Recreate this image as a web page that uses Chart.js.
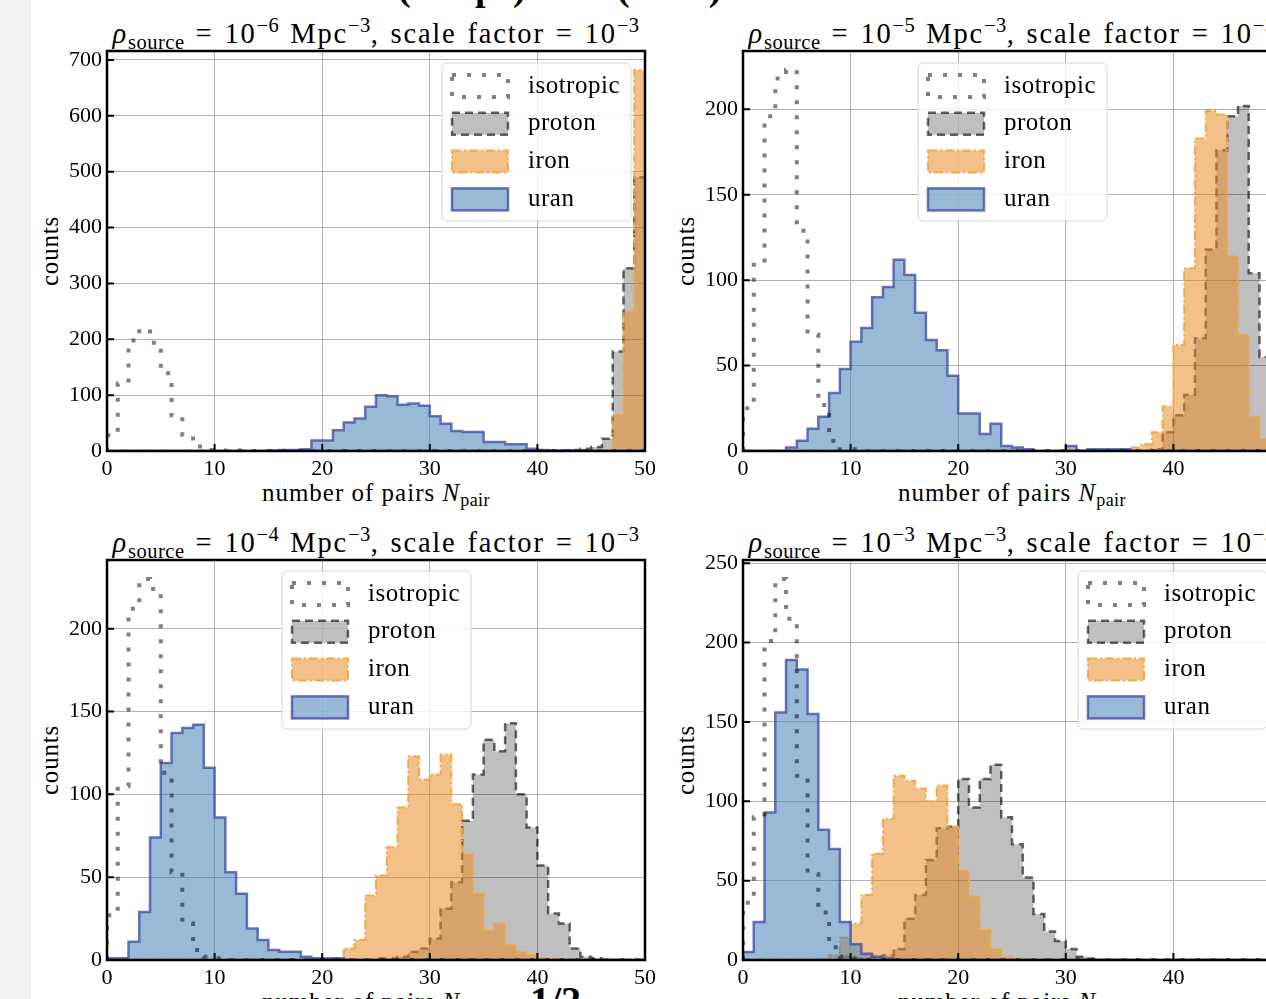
<!DOCTYPE html>
<html>
<head>
<meta charset="utf-8">
<script src="https://cdn.jsdelivr.net/npm/chart.js@4.4.1/dist/chart.umd.min.js"></script>
<style>
  body { margin: 0; width: 1266px; height: 999px; overflow: hidden; background: #fff; position: relative;
         font-family: "Liberation Serif", "DejaVu Serif", serif; color: #000; }
  #strip { position: absolute; left: 0; top: 0; width: 31px; height: 999px; background: #f1f1f1; }
  canvas { position: absolute; }
  .title { position: absolute; font-size: 28.5px; line-height: 30px; white-space: nowrap; text-align: center;
           letter-spacing: 1.8px; word-spacing: 2px; }
  .eq { margin: 0 11px; }
  .xlab { position: absolute; font-size: 25px; line-height: 26px; white-space: nowrap; text-align: center; width: 538px;
          letter-spacing: 1px; }
  .ylab { position: absolute; font-size: 25px; line-height: 26px; white-space: nowrap; letter-spacing: 0.8px;
          transform: translate(-50%, -50%) rotate(-90deg); }
  .bold { position: absolute; font-weight: bold; white-space: nowrap; line-height: 1; }
  sub { font-size: 0.72em; position: relative; top: 0.3em; vertical-align: baseline; line-height: 0; letter-spacing: 0.5px; }
  sup { font-size: 0.72em; position: relative; top: -0.55em; vertical-align: baseline; line-height: 0; letter-spacing: 0.5px; }
</style>
</head>
<body>
<div id="strip"></div>

<div class="bold" style="left:398px;top:-32px;font-size:38px">(1 Mpc)</div>
<div class="bold" style="left:617px;top:-32px;font-size:38px">(1 nG)</div>
<div class="bold" style="left:530px;top:981px;font-size:40px">1/2</div>

<div class="title" style="left:107px;top:19px;width:538px"><i>ρ</i><sub>source</sub><span class="eq">=</span>10<sup>−6</sup> Mpc<sup>−3</sup>, scale factor<span class="eq">=</span>10<sup>−3</sup></div>
<div class="title" style="left:743px;top:19px;width:538px"><i>ρ</i><sub>source</sub><span class="eq">=</span>10<sup>−5</sup> Mpc<sup>−3</sup>, scale factor<span class="eq">=</span>10<sup>−3</sup></div>
<div class="title" style="left:107px;top:528px;width:538px"><i>ρ</i><sub>source</sub><span class="eq">=</span>10<sup>−4</sup> Mpc<sup>−3</sup>, scale factor<span class="eq">=</span>10<sup>−3</sup></div>
<div class="title" style="left:743px;top:528px;width:538px"><i>ρ</i><sub>source</sub><span class="eq">=</span>10<sup>−3</sup> Mpc<sup>−3</sup>, scale factor<span class="eq">=</span>10<sup>−3</sup></div>

<div class="ylab" style="left:50px;top:251px">counts</div>
<div class="ylab" style="left:686px;top:251px">counts</div>
<div class="ylab" style="left:50px;top:760px">counts</div>
<div class="ylab" style="left:686px;top:760px">counts</div>

<div class="xlab" style="left:107px;top:480px">number of pairs <i>N</i><sub>pair</sub></div>
<div class="xlab" style="left:743px;top:480px">number of pairs <i>N</i><sub>pair</sub></div>
<div class="xlab" style="left:107px;top:989px">number of pairs <i>N</i><sub>pair</sub></div>
<div class="xlab" style="left:743px;top:989px">number of pairs <i>N</i><sub>pair</sub></div>

<canvas id="c1" width="623" height="455" style="left:47px;top:31px"></canvas>
<canvas id="c2" width="623" height="455" style="left:683px;top:31px"></canvas>
<canvas id="c3" width="623" height="455" style="left:47px;top:540px"></canvas>
<canvas id="c4" width="623" height="455" style="left:683px;top:540px"></canvas>

<script>
const FONT = "'Liberation Serif', 'DejaVu Serif', serif";

// left edges of the 50 unit bins (number of pairs)
const binLeft = [0, 1, 2, 3, 4, 5, 6, 7, 8, 9, 10, 11, 12, 13, 14, 15, 16, 17, 18, 19,
                 20, 21, 22, 23, 24, 25, 26, 27, 28, 29, 30, 31, 32, 33, 34, 35, 36, 37, 38, 39,
                 40, 41, 42, 43, 44, 45, 46, 47, 48, 49];
const binRight = 50;

const seriesNames = ["isotropic", "proton", "iron", "uran"];

// rho = 1e-6 Mpc^-3
const rho6Isotropic = [28, 121, 198, 218, 194, 139, 64, 29, 8, 2, 1, 0, 1, 0, 0, 0, 0, 0, 0, 0,
                       0, 0, 0, 0, 0, 0, 0, 0, 0, 0, 0, 0, 0, 0, 0, 0, 0, 0, 0, 0,
                       0, 0, 0, 0, 0, 0, 0, 0, 0, 0];
const rho6Proton = [0, 0, 0, 0, 0, 0, 0, 0, 0, 0, 0, 0, 0, 0, 0, 0, 0, 0, 0, 0,
                    0, 0, 0, 0, 0, 0, 0, 0, 0, 0, 0, 0, 0, 0, 0, 0, 0, 0, 0, 0,
                    0, 1, 1, 2, 4, 7, 22, 178, 327, 490];
const rho6Iron = [0, 0, 0, 0, 0, 0, 0, 0, 0, 0, 0, 0, 0, 0, 0, 0, 0, 0, 0, 0,
                  0, 0, 0, 0, 0, 0, 0, 0, 0, 0, 0, 0, 0, 0, 0, 0, 0, 0, 0, 0,
                  0, 0, 0, 0, 0, 0, 2, 65, 250, 682];
const rho6Uran = [0, 0, 0, 0, 0, 0, 0, 0, 0, 0, 0, 0, 0, 0, 0, 1, 2, 2, 3, 19,
                  19, 37, 51, 58, 79, 100, 98, 83, 85, 81, 62, 49, 36, 34, 34, 16, 16, 12, 12, 4,
                  2, 1, 1, 1, 0, 0, 0, 0, 0, 0];

// rho = 1e-5 Mpc^-3
const rho5Isotropic = [25, 109, 196, 218, 223, 129, 68, 27, 6, 1, 1, 0, 0, 0, 0, 0, 0, 0, 0, 0,
                       0, 0, 0, 0, 0, 0, 0, 0, 0, 0, 0, 0, 0, 0, 0, 0, 0, 0, 0, 0,
                       0, 0, 0, 0, 0, 0, 0, 0, 0, 0];
const rho5Proton = [0, 0, 0, 0, 0, 0, 0, 0, 0, 0, 0, 0, 0, 0, 0, 0, 0, 0, 0, 0,
                    0, 0, 0, 0, 0, 0, 0, 0, 0, 0, 0, 0, 0, 0, 0, 0, 0, 0, 1, 11,
                    21, 33, 66, 118, 176, 196, 202, 104, 55, 20];
const rho5Iron = [0, 0, 0, 0, 0, 0, 0, 0, 0, 0, 0, 0, 0, 0, 0, 0, 0, 0, 0, 0,
                  0, 0, 0, 0, 0, 0, 0, 0, 0, 0, 0, 0, 0, 0, 0, 1, 2, 4, 11, 26,
                  62, 107, 183, 199, 197, 114, 68, 20, 7, 2];
const rho5Uran = [0, 0, 0, 0, 2, 6, 13, 20, 34, 48, 64, 72, 90, 96, 112, 103, 81, 65, 59, 44,
                  22, 22, 10, 16, 3, 2, 1, 0, 0, 0, 3, 0, 1, 1, 1, 1, 0, 0, 0, 0,
                  0, 0, 0, 0, 0, 0, 0, 0, 0, 0];

// rho = 1e-4 Mpc^-3
const rho4Isotropic = [27, 105, 212, 230, 224, 113, 53, 22, 6, 2, 1, 0, 0, 0, 0, 0, 0, 0, 0, 0,
                       0, 0, 0, 0, 0, 0, 0, 0, 0, 0, 0, 0, 0, 0, 0, 0, 0, 0, 0, 0,
                       0, 0, 0, 0, 0, 0, 0, 0, 0, 0];
const rho4Proton = [0, 0, 0, 0, 0, 0, 0, 0, 0, 0, 0, 0, 0, 0, 0, 0, 0, 0, 0, 0,
                    0, 0, 0, 0, 0, 1, 1, 2, 5, 7, 13, 31, 47, 84, 112, 133, 126, 143, 100, 80,
                    57, 28, 22, 7, 2, 1, 0, 0, 0, 0];
const rho4Iron = [0, 0, 0, 0, 0, 0, 0, 0, 0, 0, 0, 0, 0, 0, 0, 0, 0, 0, 0, 0,
                  0, 1, 7, 12, 39, 51, 68, 92, 123, 109, 112, 124, 94, 64, 40, 18, 22, 9, 5, 3,
                  1, 1, 0, 0, 0, 0, 0, 0, 0, 0];
const rho4Uran = [1, 1, 11, 29, 74, 119, 137, 140, 142, 116, 86, 53, 40, 19, 12, 6, 5, 5, 2, 1,
                  1, 1, 0, 0, 0, 0, 0, 0, 0, 0, 0, 0, 0, 0, 0, 0, 0, 0, 0, 0,
                  0, 0, 0, 0, 0, 0, 0, 0, 0, 0];

// rho = 1e-3 Mpc^-3
const rho3Isotropic = [36, 90, 201, 240, 215, 116, 54, 30, 8, 2, 1, 0, 0, 0, 0, 0, 0, 0, 0, 0,
                       0, 0, 0, 0, 0, 0, 0, 0, 0, 0, 0, 0, 0, 0, 0, 0, 0, 0, 0, 0,
                       0, 0, 0, 0, 0, 0, 0, 0, 0, 0];
const rho3Proton = [0, 0, 0, 0, 0, 0, 0, 0, 0, 2, 1, 1, 2, 3, 7, 26, 41, 63, 83, 84,
                    114, 96, 114, 123, 90, 73, 52, 29, 18, 12, 7, 2, 1, 0, 0, 0, 0, 0, 0, 0,
                    0, 0, 0, 0, 0, 0, 0, 0, 0, 0];
const rho3Iron = [0, 0, 0, 0, 0, 0, 0, 1, 3, 14, 23, 41, 67, 89, 116, 113, 108, 100, 110, 84,
                  56, 40, 19, 7, 2, 1, 0, 0, 0, 0, 0, 0, 0, 0, 0, 0, 0, 0, 0, 0,
                  0, 0, 0, 0, 0, 0, 0, 0, 0, 0];
const rho3Uran = [5, 24, 93, 156, 189, 183, 155, 82, 70, 24, 10, 4, 2, 1, 0, 0, 0, 0, 0, 0,
                  0, 0, 0, 0, 0, 0, 0, 0, 0, 0, 0, 0, 0, 0, 0, 0, 0, 0, 0, 0,
                  0, 0, 0, 0, 0, 0, 0, 0, 0, 0];

// turn bin counts into the outline of a step histogram
function stepPoints(counts) {
    const pts = [{ x: binLeft[0], y: 0 }];
    counts.forEach((c, i) => pts.push({ x: binLeft[i], y: c }));
    pts.push({ x: binRight, y: counts[counts.length - 1] });
    pts.push({ x: binRight, y: 0 });
    return pts;
}

const styles = [
    { borderColor: "rgba(0,0,0,0.5)", borderWidth: 4, borderDash: [4, 11], fill: false, order: 0 },
    { backgroundColor: "rgba(0,0,0,0.25)", borderColor: "rgba(0,0,0,0.6)", borderWidth: 2.5, borderDash: [8, 5], fill: "origin", order: 3 },
    { backgroundColor: "rgba(235,140,40,0.55)", borderColor: "rgba(240,165,60,0.9)", borderWidth: 2, borderDash: [9, 3, 2, 3], fill: "origin", order: 2 },
    { backgroundColor: "rgba(70,130,180,0.55)", borderColor: "rgba(70,80,170,0.8)", borderWidth: 2.5, borderDash: [], fill: "origin", order: 1 }
];

// frame with inward ticks on the left and bottom
const framePlugin = {
    id: "frame",
    afterDraw(chart) {
        const { ctx, chartArea: a, scales } = chart;
        ctx.save();
        ctx.strokeStyle = "#000";
        ctx.lineWidth = 2;
        ctx.beginPath();
        scales.y.ticks.forEach(t => {
            const py = scales.y.getPixelForValue(t.value);
            ctx.moveTo(a.left, py);
            ctx.lineTo(a.left + 7, py);
        });
        scales.x.ticks.forEach(t => {
            const px = scales.x.getPixelForValue(t.value);
            ctx.moveTo(px, a.bottom);
            ctx.lineTo(px, a.bottom - 7);
        });
        ctx.stroke();
        ctx.lineWidth = 2.5;
        ctx.strokeRect(a.left, a.top, a.right - a.left, a.bottom - a.top);
        ctx.restore();
    }
};

// matplotlib-like legend box
const boxLegendPlugin = {
    id: "boxLegend",
    afterDraw(chart, args, opts) {
        const { ctx, chartArea } = chart;
        const x = chartArea.left + opts.dx;
        const y = chartArea.top + opts.dy;
        ctx.save();
        ctx.beginPath();
        ctx.roundRect(x, y, 189, 158, 5);
        ctx.fillStyle = "rgba(255,255,255,0.8)";
        ctx.fill();
        ctx.strokeStyle = "#d6d6d6";
        ctx.lineWidth = 1;
        ctx.stroke();
        chart.data.datasets.forEach((ds, i) => {
            const cy = y + 23 + i * 37.8;
            const px = x + 10, py = cy - 11;
            if (ds.fill) {
                ctx.fillStyle = ds.backgroundColor;
                ctx.fillRect(px, py, 56, 22);
            }
            ctx.setLineDash(ds.borderDash);
            ctx.lineWidth = ds.borderWidth;
            ctx.strokeStyle = ds.borderColor;
            ctx.strokeRect(px, py, 56, 22);
            ctx.setLineDash([]);
            ctx.fillStyle = "#000";
            ctx.font = "25px " + FONT;
            ctx.letterSpacing = "0.5px";
            ctx.textBaseline = "middle";
            ctx.fillText(ds.label, x + 86, cy);
        });
        ctx.restore();
    }
};

function makePanel(id, series, yStep, legendDx, legendDy) {
    const ymax = 1.05 * Math.max(...series.map(s => Math.max(...s)));
    new Chart(document.getElementById(id), {
        type: "line",
        data: {
            datasets: series.map((counts, i) => Object.assign({
                label: seriesNames[i],
                data: stepPoints(counts),
                stepped: "before",
                pointRadius: 0,
                tension: 0
            }, styles[i]))
        },
        options: {
            responsive: false,
            animation: false,
            devicePixelRatio: 1,
            layout: { padding: { left: 0, top: 20, right: 25, bottom: 0 } },
            plugins: {
                legend: { display: false },
                tooltip: { enabled: false },
                boxLegend: { dx: legendDx, dy: legendDy }
            },
            scales: {
                x: {
                    type: "linear", min: 0, max: 50, z: 1,
                    ticks: { stepSize: 10, padding: 5, color: "#000", maxRotation: 0, includeBounds: false,
                             font: { family: FONT, size: 22 } },
                    grid: { color: "#b0b0b0", lineWidth: 1, drawTicks: false },
                    border: { display: false },
                    afterFit(scale) { scale.height = 35; }
                },
                y: {
                    type: "linear", min: 0, max: ymax, z: 1,
                    ticks: { padding: 5, color: "#000", font: { family: FONT, size: 22 } },
                    grid: { color: "#b0b0b0", lineWidth: 1, drawTicks: false },
                    border: { display: false },
                    afterBuildTicks(scale) {
                        const ticks = [];
                        for (let v = 0; v <= scale.max; v += yStep) ticks.push({ value: v });
                        scale.ticks = ticks;
                    },
                    afterFit(scale) { scale.width = 60; }
                }
            }
        },
        plugins: [framePlugin, boxLegendPlugin]
    });
}

makePanel("c1", [rho6Isotropic, rho6Proton, rho6Iron, rho6Uran], 100, 335, 12);
makePanel("c2", [rho5Isotropic, rho5Proton, rho5Iron, rho5Uran], 50, 175, 12);
makePanel("c3", [rho4Isotropic, rho4Proton, rho4Iron, rho4Uran], 50, 175, 11);
makePanel("c4", [rho3Isotropic, rho3Proton, rho3Iron, rho3Uran], 50, 335, 11);
</script>
</body>
</html>
